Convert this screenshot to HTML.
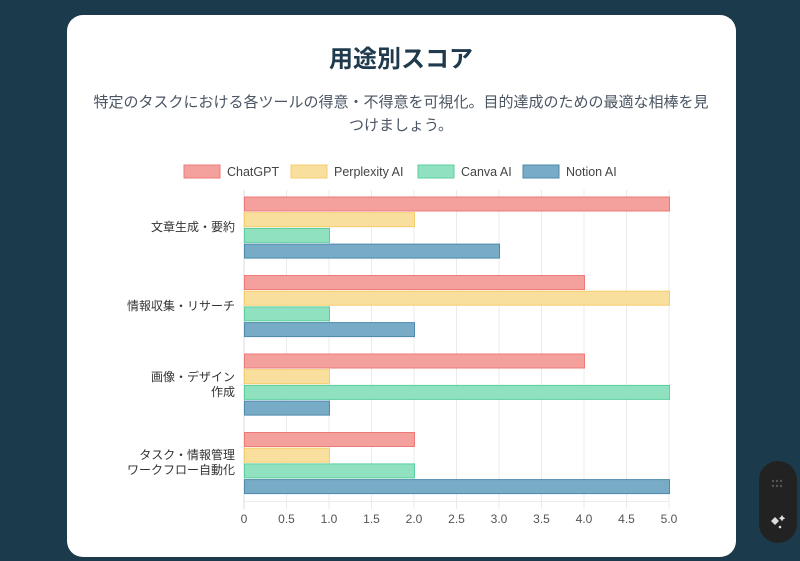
<!DOCTYPE html>
<html><head><meta charset="utf-8"><style>
body{margin:0;width:800px;height:561px;background:#1b3a4b;font-family:"Liberation Sans","Noto Sans CJK JP",sans-serif;overflow:hidden;position:relative}
.card{position:absolute;left:67px;top:15px;width:669px;height:542px;background:#fff;border-radius:16px}
</style></head><body>
<div class="card"></div>
<svg width="800" height="561" style="position:absolute;left:0;top:0" font-family="Liberation Sans, Noto Sans CJK JP, sans-serif">
<text x="401" y="67" text-anchor="middle" font-size="24" font-weight="bold" fill="#1f3a4d">用途別スコア</text>
<text x="401" y="107" text-anchor="middle" font-size="15" fill="#4b5563">特定のタスクにおける各ツールの得意・不得意を可視化。目的達成のための最適な相棒を見</text>
<text x="401" y="130" text-anchor="middle" font-size="15" fill="#4b5563">つけましょう。</text>
<g font-size="12.5" fill="#444">
<rect x="184" y="165" width="36" height="13" fill="#f4a09c" stroke="#ee7a78"/><text x="227" y="176">ChatGPT</text>
<rect x="291" y="165" width="36" height="13" fill="#f9df9e" stroke="#f5cd6c"/><text x="334" y="176">Perplexity AI</text>
<rect x="418" y="165" width="36" height="13" fill="#90e1bf" stroke="#5ccf9c"/><text x="461" y="176">Canva AI</text>
<rect x="523" y="165" width="36" height="13" fill="#77abc6" stroke="#4e8aad"/><text x="566" y="176">Notion AI</text>
</g>
<g stroke="#ebebeb" stroke-width="1">
<line x1="286.5" y1="190" x2="286.5" y2="509"/><line x1="329" y1="190" x2="329" y2="509"/><line x1="371.5" y1="190" x2="371.5" y2="509"/><line x1="414" y1="190" x2="414" y2="509"/><line x1="456.5" y1="190" x2="456.5" y2="509"/><line x1="499" y1="190" x2="499" y2="509"/><line x1="541.5" y1="190" x2="541.5" y2="509"/><line x1="584" y1="190" x2="584" y2="509"/><line x1="626.5" y1="190" x2="626.5" y2="509"/><line x1="669" y1="190" x2="669" y2="509"/>
<line x1="244" y1="501.5" x2="669" y2="501.5"/>
</g>
<line x1="244" y1="190" x2="244" y2="509" stroke="#ddd"/>
<g stroke-width="1">
<rect x="244.5" y="197" width="425" height="14" fill="#f4a09c" stroke="#ee7a78"/>
<rect x="244.5" y="212.7" width="170" height="14" fill="#f9df9e" stroke="#f5cd6c"/>
<rect x="244.5" y="228.4" width="85" height="14" fill="#90e1bf" stroke="#5ccf9c"/>
<rect x="244.5" y="244.1" width="255" height="14" fill="#77abc6" stroke="#4e8aad"/>
<rect x="244.5" y="275.5" width="340" height="14" fill="#f4a09c" stroke="#ee7a78"/>
<rect x="244.5" y="291.2" width="425" height="14" fill="#f9df9e" stroke="#f5cd6c"/>
<rect x="244.5" y="306.9" width="85" height="14" fill="#90e1bf" stroke="#5ccf9c"/>
<rect x="244.5" y="322.6" width="170" height="14" fill="#77abc6" stroke="#4e8aad"/>
<rect x="244.5" y="354" width="340" height="14" fill="#f4a09c" stroke="#ee7a78"/>
<rect x="244.5" y="369.7" width="85" height="14" fill="#f9df9e" stroke="#f5cd6c"/>
<rect x="244.5" y="385.4" width="425" height="14" fill="#90e1bf" stroke="#5ccf9c"/>
<rect x="244.5" y="401.1" width="85" height="14" fill="#77abc6" stroke="#4e8aad"/>
<rect x="244.5" y="432.5" width="170" height="14" fill="#f4a09c" stroke="#ee7a78"/>
<rect x="244.5" y="448.2" width="85" height="14" fill="#f9df9e" stroke="#f5cd6c"/>
<rect x="244.5" y="463.9" width="170" height="14" fill="#90e1bf" stroke="#5ccf9c"/>
<rect x="244.5" y="479.6" width="425" height="14" fill="#77abc6" stroke="#4e8aad"/>
</g>
<g font-size="12" fill="#333" text-anchor="end">
<text x="235" y="231">文章生成・要約</text>
<text x="235" y="310">情報収集・リサーチ</text>
<text x="235" y="381">画像・デザイン</text>
<text x="235" y="396">作成</text>
<text x="235" y="459">タスク・情報管理</text>
<text x="235" y="474">ワークフロー自動化</text>
</g>
<g font-size="12" fill="#555" text-anchor="middle">
<text x="244" y="523">0</text><text x="286.5" y="523">0.5</text><text x="329" y="523">1.0</text><text x="371.5" y="523">1.5</text><text x="414" y="523">2.0</text><text x="456.5" y="523">2.5</text><text x="499" y="523">3.0</text><text x="541.5" y="523">3.5</text><text x="584" y="523">4.0</text><text x="626.5" y="523">4.5</text><text x="669" y="523">5.0</text>
</g>
<rect x="759" y="461" width="38" height="82" rx="19" fill="#222"/>
<g fill="#555"><circle cx="773" cy="481" r="1.2"/><circle cx="777" cy="481" r="1.2"/><circle cx="781" cy="481" r="1.2"/><circle cx="773" cy="486" r="1.2"/><circle cx="777" cy="486" r="1.2"/><circle cx="781" cy="486" r="1.2"/></g>
<g fill="#ddd"><path d="M775 517 l4 4 -4 4 -4 -4z"/><path d="M782 515 l1.2 2 2 1.2 -2 1.2 -1.2 2 -1.2 -2 -2 -1.2 2 -1.2z"/><circle cx="780" cy="527" r="1.3"/></g>
</svg>
</body></html>
